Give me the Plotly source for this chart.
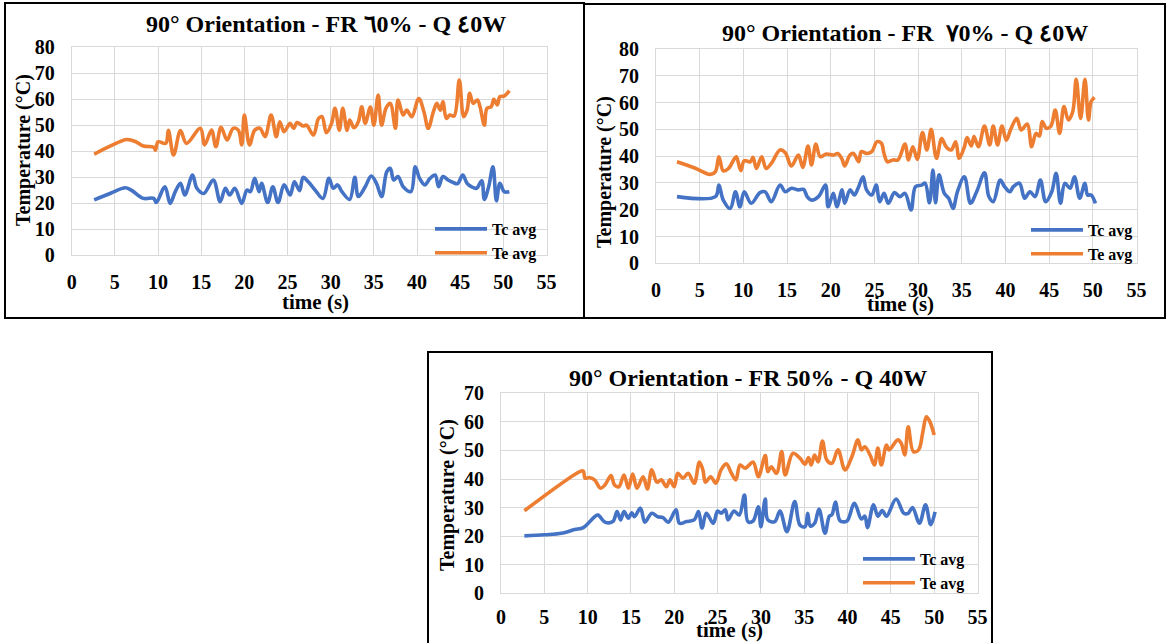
import plotly.graph_objects as go

W, H = 1167, 643

# ---------------- data ----------------
# Chart 1 : FR ٦0%
t1_te = [2.6, 4.5, 6.4, 7.5, 8.3, 9.5, 9.7, 10.0, 10.9, 11.2, 11.8, 12.6, 13.3, 14.9, 15.4, 16.2, 16.7, 17.3, 18.0, 18.7,
         19.3, 19.7, 20.0, 20.6, 21.2, 21.8, 22.4, 23.1, 23.7, 24.1, 24.6, 25.3, 25.7, 26.1, 26.8, 27.2, 28.0, 28.6, 29.0, 29.5,
         30.1, 30.5, 31.0, 31.4, 31.9, 32.2, 32.7, 33.2, 33.6, 34.0, 34.6, 35.0, 35.5, 35.9, 36.4, 36.9, 37.5, 37.8, 38.4, 38.8,
         39.4, 40.2, 40.8, 41.3, 41.9, 42.3, 42.7, 43.0, 43.4, 43.8, 44.3, 44.9, 45.4, 45.8, 46.1, 46.5, 47.0, 47.3, 47.8, 48.1,
         48.6, 48.9, 49.3, 49.6, 50.1, 50.7]
te1 = [38.8, 42.0, 44.5, 43.5, 42.0, 41.5, 40.4, 43.6, 43.0, 48.0, 38.5, 47.9, 43.0, 48.8, 42.4, 48.1, 41.7, 49.2, 44.3, 48.8,
       48.1, 42.4, 53.9, 42.4, 48.1, 48.8, 45.6, 53.9, 45.6, 51.3, 47.5, 50.7, 48.8, 51.0, 49.7, 50.0, 46.2, 52.6, 53.3, 47.1,
       50.7, 56.5, 48.1, 56.5, 48.0, 52.0, 49.0, 51.3, 57.1, 50.7, 57.0, 50.0, 61.6, 50.0, 56.5, 58.4, 48.8, 59.7, 53.9, 55.8,
       53.3, 60.3, 55.2, 48.8, 55.2, 58.4, 55.8, 59.0, 52.6, 53.9, 53.5, 67.4, 53.3, 55.8, 62.3, 58.4, 59.7, 57.1, 50.0, 56.5,
       57.1, 60.0, 57.8, 61.0, 61.2, 63.3]
t1_tc = [2.6, 4.5, 6.2, 6.9, 8.3, 9.5, 9.8, 10.8, 11.4, 12.0, 12.6, 13.1, 14.0, 14.5, 15.3, 16.4, 17.2, 17.8, 18.3, 18.9,
         19.7, 20.3, 20.7, 21.2, 21.7, 22.0, 22.7, 23.3, 23.9, 24.6, 25.3, 25.8, 26.4, 26.8, 27.4, 28.2, 29.1, 29.8, 30.3, 30.8,
         31.3, 32.2, 32.8, 33.2, 34.0, 34.7, 35.3, 35.9, 36.5, 36.9, 37.3, 37.8, 38.4, 39.3, 39.8, 40.3, 40.9, 41.5, 42.1, 42.5,
         43.0, 43.6, 44.2, 44.7, 45.3, 45.8, 46.3, 46.9, 47.5, 47.8, 48.3, 48.8, 49.2, 49.6, 50.1, 50.7]
tc1 = [21.2, 23.8, 25.9, 25.0, 21.8, 21.8, 20.2, 26.3, 19.9, 24.4, 27.6, 23.1, 30.8, 25.7, 23.7, 28.9, 20.5, 25.7, 23.1, 25.7,
       19.9, 25.0, 24.4, 29.5, 24.4, 27.6, 20.2, 26.3, 20.2, 27.0, 23.1, 28.2, 24.8, 29.9, 28.2, 25.0, 21.8, 29.5, 25.7, 27.0,
       24.4, 21.4, 29.9, 22.5, 26.3, 30.4, 27.6, 22.5, 32.1, 33.4, 28.9, 30.2, 26.3, 24.4, 34.0, 29.5, 27.0, 29.5, 30.8, 26.3,
       30.2, 28.9, 27.9, 27.5, 30.8, 27.6, 26.3, 25.7, 28.6, 21.4, 26.3, 34.0, 20.9, 27.6, 24.4, 24.4]

# Chart 2 : FR ٧0%
t2_te = [2.4, 4.5, 6.2, 6.8, 7.2, 7.7, 8.3, 9.0, 9.2, 9.7, 10.1, 10.8, 11.1, 11.5, 12.1, 12.6, 13.2, 14.2, 14.8, 15.5,
         16.3, 16.8, 17.4, 17.8, 18.3, 18.8, 19.5, 20.3, 20.8, 21.3, 21.6, 22.2, 22.6, 23.2, 23.5, 24.1, 24.7, 25.3, 25.8, 26.1,
         26.5, 27.1, 27.7, 28.5, 28.9, 29.4, 29.9, 30.5, 31.0, 31.5, 32.1, 32.7, 33.2, 33.8, 34.3, 34.7, 35.3, 35.6, 36.1, 36.4,
         36.9, 37.6, 38.2, 38.6, 39.1, 39.6, 40.1, 40.6, 41.3, 41.8, 42.5, 43.0, 43.5, 43.9, 44.2, 44.7, 45.2, 45.7, 46.2, 46.7,
         47.2, 47.7, 48.1, 48.6, 49.1, 49.5, 49.8, 50.2]
te2 = [37.9, 35.5, 33.2, 34.2, 39.8, 34.5, 35.4, 39.2, 39.8, 34.6, 38.3, 37.9, 39.6, 35.4, 39.8, 35.4, 37.3, 42.3, 41.3, 36.3,
       40.4, 35.8, 43.8, 36.7, 44.5, 39.8, 40.8, 40.4, 41.0, 38.8, 36.3, 40.4, 41.0, 37.9, 41.7, 41.0, 41.7, 45.4, 44.8, 41.0,
       37.9, 38.6, 38.6, 44.5, 38.6, 43.5, 38.8, 48.8, 42.3, 50.0, 39.2, 46.6, 43.5, 42.3, 45.4, 39.2, 43.5, 46.9, 43.8, 47.3,
       43.5, 51.2, 44.2, 51.2, 44.2, 51.2, 46.0, 50.0, 54.1, 49.8, 52.0, 43.5, 48.5, 47.5, 52.9, 50.4, 51.2, 57.2, 48.5, 58.5,
       53.5, 56.6, 68.7, 54.1, 68.7, 53.5, 60.3, 61.9]
t2_tc = [2.4, 6.8, 7.2, 7.7, 8.5, 9.1, 9.6, 10.1, 10.9, 11.9, 12.5, 13.2, 14.2, 14.8, 15.5, 16.3, 16.9, 17.3, 17.8, 18.6,
         19.4, 19.7, 20.3, 20.7, 21.3, 21.6, 22.2, 22.7, 23.2, 23.7, 24.1, 24.7, 25.2, 25.6, 26.1, 26.6, 27.3, 27.9, 28.5, 29.2,
         29.7, 30.4, 30.8, 31.3, 31.7, 32.0, 32.4, 33.0, 33.5, 34.0, 34.5, 35.3, 36.0, 36.7, 37.6, 38.1, 38.6, 39.4, 39.9, 40.5,
         40.9, 41.6, 42.2, 42.8, 43.4, 44.0, 44.6, 45.3, 45.8, 46.3, 46.8, 47.4, 47.9, 48.5, 49.1, 49.4, 49.8, 50.3]
tc2 = [24.9, 24.9, 29.2, 23.6, 20.5, 26.7, 21.1, 26.7, 22.4, 26.4, 26.7, 23.0, 29.2, 26.7, 28.0, 27.4, 27.6, 24.9, 23.6, 24.9,
       29.2, 21.1, 26.1, 21.1, 27.4, 22.4, 27.4, 25.5, 28.6, 32.3, 27.4, 25.5, 29.2, 23.0, 26.1, 22.4, 26.4, 24.9, 26.1, 19.9,
       28.6, 29.2, 29.9, 22.6, 34.8, 22.6, 33.0, 26.1, 24.3, 20.5, 26.7, 32.3, 22.4, 26.7, 33.8, 24.9, 23.0, 31.1, 28.6, 26.7,
       28.6, 29.9, 24.3, 26.7, 24.9, 31.1, 23.0, 26.7, 33.6, 22.4, 29.9, 28.0, 32.3, 24.3, 29.9, 25.5, 25.5, 22.4]

# Chart 3 : FR 50%
t3_te = [2.7, 9.1, 9.5, 9.7, 10.2, 10.8, 11.5, 12.0, 12.7, 13.1, 13.6, 14.2, 14.7, 15.2, 15.7, 16.4, 16.9, 17.4, 18.0, 18.5,
         19.1, 19.5, 20.0, 20.4, 21.0, 21.6, 22.3, 22.9, 23.3, 23.6, 24.2, 24.8, 25.4, 26.0, 26.6, 27.1, 27.6, 28.2, 29.1, 29.7,
         30.5, 30.8, 31.2, 31.8, 32.4, 32.8, 33.7, 34.5, 35.1, 35.5, 35.8, 36.2, 36.6, 37.1, 37.6, 38.2, 38.9, 39.7, 40.5, 41.2,
         41.6, 42.0, 42.6, 43.1, 43.5, 43.9, 44.5, 44.8, 45.8, 46.2, 46.6, 47.0, 47.6, 48.2, 48.7, 49.1, 49.5, 50.0]
te3 = [28.9, 42.6, 42.8, 40.3, 40.5, 39.7, 36.8, 37.9, 41.2, 37.9, 37.3, 41.4, 36.8, 41.7, 36.8, 40.8, 36.5, 43.2, 38.9, 39.7,
       37.3, 39.7, 37.3, 42.0, 40.3, 42.0, 38.5, 45.9, 43.2, 38.9, 40.8, 38.5, 43.2, 45.3, 42.0, 39.7, 44.9, 43.8, 45.9, 40.8,
       48.2, 42.6, 44.3, 42.0, 49.6, 41.4, 49.0, 47.3, 45.2, 47.5, 44.9, 48.4, 46.0, 53.3, 46.7, 45.5, 50.2, 43.2, 47.8, 53.7,
       50.2, 51.3, 48.4, 44.9, 50.8, 44.9, 51.9, 50.2, 53.7, 52.5, 48.4, 58.3, 49.6, 50.2, 56.6, 61.8, 60.1, 55.4]
t3_tc = [2.7, 5.0, 7.0, 8.5, 9.5, 10.8, 11.2, 12.0, 12.9, 13.4, 13.8, 14.2, 14.7, 15.1, 15.4, 16.1, 16.6, 17.4, 18.1, 18.7,
         19.3, 20.2, 20.6, 21.4, 22.3, 22.8, 23.2, 23.7, 24.5, 25.0, 25.4, 25.9, 26.2, 26.9, 27.5, 28.1, 28.5, 29.1, 29.7, 30.0,
         30.5, 30.8, 31.6, 32.2, 33.0, 33.9, 34.5, 35.1, 35.4, 35.7, 36.2, 36.7, 37.4, 37.9, 38.2, 38.6, 39.1, 39.6, 40.0, 40.8,
         41.6, 42.0, 42.3, 43.0, 43.5, 44.0, 44.5, 45.6, 46.5, 47.0, 47.5, 48.3, 49.0, 49.6, 50.1]
tc3 = [20.1, 20.5, 21.0, 22.3, 23.0, 26.8, 27.4, 24.9, 25.1, 28.6, 25.7, 28.6, 26.3, 28.2, 26.8, 29.8, 24.9, 28.0, 26.8, 26.5,
       24.9, 29.2, 24.5, 25.1, 25.7, 28.6, 22.8, 28.0, 24.5, 28.8, 28.0, 29.2, 25.7, 28.8, 27.4, 34.4, 25.1, 25.3, 30.3, 23.3,
       33.0, 25.7, 25.1, 28.8, 21.6, 32.1, 23.9, 23.3, 28.0, 23.5, 24.5, 29.5, 21.0, 27.0, 27.5, 31.9, 25.5, 25.0, 25.5, 31.5,
       26.0, 27.0, 23.0, 31.0, 27.0, 29.0, 27.0, 33.0, 28.0, 28.0, 30.0, 24.5, 31.0, 24.0, 28.5]

titles = ["90° Orientation - FR ٦0% - Q ٤0W",
          "90° Orientation - FR  ٧0% - Q ٤0W",
          "90° Orientation - FR 50% - Q 40W"]
series_names = ["Tc avg", "Te avg"]
y_max = [80, 80, 70]
x_max = 55

# ---------------- layout helpers ----------------
BLUE, ORANGE = "#4472C4", "#ED7D31"
FONT = "Liberation Serif, Times New Roman, serif"
GRID = "#D9D9D9"

def px(x):
    return x / W

def py(y):
    return 1 - y / H

# plot-area pixel boxes: (left, right, top, bottom)
areas = [(71.7, 546.5, 47.3, 255.0), (656.0, 1136.5, 49.0, 263.3), (501.0, 977.5, 393.3, 593.3)]
boxes = [(5, 584, 3, 318), (584, 1165, 4, 318), (428, 992, 352, 660)]
title_pos = [(326, 24), (905, 33), (748, 378)]
xtitle_pos = [(315, 302), (900, 304), (729, 630)]
ytitle_pos = [(23, 150), (604, 172), (447, 495)]
legend_pos = [(430, 212), (1026, 213), (858, 542)]
xtick_standoff = [9, 9, 6]

data = [(t1_tc, tc1, t1_te, te1), (t2_tc, tc2, t2_te, te2), (t3_tc, tc3, t3_te, te3)]

fig = go.Figure()
layout = dict(width=W, height=H, margin=dict(l=0, r=0, t=0, b=0, pad=0, autoexpand=False),
              paper_bgcolor="white", plot_bgcolor="white", annotations=[], shapes=[],
              template="none")

for i in range(3):
    s = "" if i == 0 else str(i + 1)
    tc_t, tc_v, te_t, te_v = data[i]
    leg = "legend" if i == 0 else "legend" + s
    fig.add_trace(go.Scatter(x=tc_t, y=tc_v, mode="lines", name=series_names[0],
                             line=dict(color=BLUE, width=3.6, shape="spline", smoothing=1),
                             xaxis="x" + s, yaxis="y" + s, legend=leg))
    fig.add_trace(go.Scatter(x=te_t, y=te_v, mode="lines", name=series_names[1],
                             line=dict(color=ORANGE, width=3.6, shape="spline", smoothing=1),
                             xaxis="x" + s, yaxis="y" + s, legend=leg))
    l, r, t, b = areas[i]
    tickfont = dict(family=FONT, size=20, color="black", weight="bold")
    layout["xaxis" + s] = dict(domain=[px(l), px(r)], range=[0, x_max], dtick=5, tick0=0,
                               showgrid=True, gridcolor=GRID, gridwidth=1, zeroline=False,
                               showline=True, linecolor=GRID, linewidth=1, mirror=True,
                               ticks="", tickfont=tickfont, ticklabelstandoff=xtick_standoff[i],
                               anchor="y" + s, fixedrange=True, automargin=False)
    layout["yaxis" + s] = dict(domain=[py(b), py(t)], range=[0, y_max[i]], dtick=10, tick0=0,
                               showgrid=True, gridcolor=GRID, gridwidth=1, zeroline=False,
                               showline=True, linecolor=GRID, linewidth=1, mirror=True,
                               ticks="", tickfont=tickfont, ticklabelstandoff=12,
                               anchor="x" + s, fixedrange=True, automargin=False)
    lx, ly = legend_pos[i]
    layout[leg] = dict(x=px(lx), y=py(ly), xanchor="left", yanchor="top",
                       bgcolor="rgba(0,0,0,0)", itemwidth=52, borderwidth=0,
                       font=dict(family=FONT, size=16, color="black", weight="bold"))
    bx0, bx1, by0, by1 = boxes[i]
    layout["shapes"].append(dict(type="rect", xref="paper", yref="paper",
                                 x0=px(bx0), x1=px(bx1), y0=py(by1), y1=py(by0),
                                 line=dict(color="black", width=2)))
    tx, ty = title_pos[i]
    layout["annotations"].append(dict(text=titles[i], x=px(tx), y=py(ty), xref="paper", yref="paper",
                                      showarrow=False, xanchor="center", yanchor="middle",
                                      font=dict(family=FONT, size=24, color="black", weight="bold")))
    xx, xy = xtitle_pos[i]
    layout["annotations"].append(dict(text="time (s)", x=px(xx), y=py(xy), xref="paper", yref="paper",
                                      showarrow=False, xanchor="center", yanchor="middle",
                                      font=dict(family=FONT, size=21, color="black", weight="bold")))
    yx, yy = ytitle_pos[i]
    layout["annotations"].append(dict(text="Temperature (°C)", x=px(yx), y=py(yy), xref="paper", yref="paper",
                                      showarrow=False, xanchor="center", yanchor="middle", textangle=-90,
                                      font=dict(family=FONT, size=20, color="black", weight="bold")))

fig.update_layout(**layout)
fig.write_html("out.html")
